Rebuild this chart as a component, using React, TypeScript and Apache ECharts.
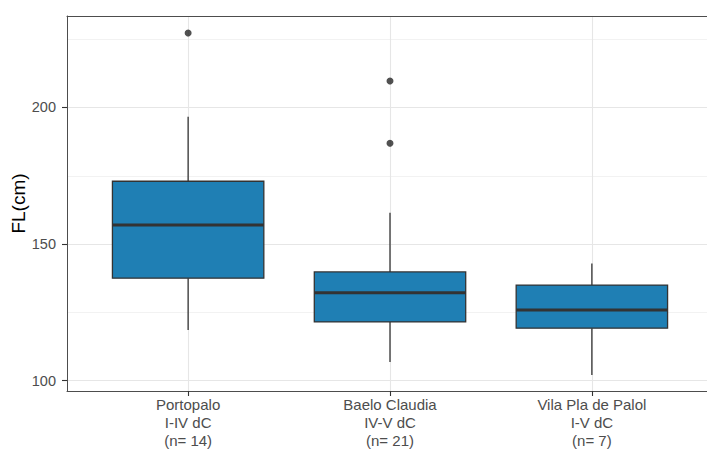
import React, { useEffect, useRef } from "react";
import * as echarts from "echarts";

const siteNames = ["Portopalo", "Baelo Claudia", "Vila Pla de Palol"];
const periods = ["I-IV dC", "IV-V dC", "I-V dC"];
const counts = [14, 21, 7];
const positions = [1, 2, 3];
// [lower whisker, Q1, median, Q3, upper whisker]
const portopaloStats = [118.5, 137.5, 157.0, 173.0, 196.6];
const baeloStats = [106.8, 121.5, 132.2, 139.8, 161.5];
const vilaStats = [102.1, 119.2, 125.9, 135.0, 142.9];
const outlierPos = [1, 2, 2];
const outlierVals = [227.3, 209.7, 186.9];
const majorTicks = [100, 150, 200];
const minorTicks = [125, 175, 225];

const FONT = "'Liberation Sans', Arial, sans-serif";
const BORDER = { show: true, lineStyle: { color: "#4d4d4d", width: 1 } };

export default function App() {
  const ref = useRef<HTMLDivElement>(null);
  useEffect(() => {
    if (!ref.current) return;
    const chart = echarts.init(ref.current, null, { renderer: "svg" });
    const stats = [portopaloStats, baeloStats, vilaStats];
    const boxData = positions.map((p, i) => [p, ...stats[i]]);
    const outData = outlierPos.map((p, i) => [p, outlierVals[i]]);
    const labels = siteNames.map((n, i) => `${n}\n${periods[i]}\n(n= ${counts[i]})`);
    const yMin = 96.2;
    const yMax = 233.5;
    chart.setOption({
      animation: false,
      backgroundColor: "#ffffff",
      grid: {
        left: 67,
        top: 16,
        width: 646,
        height: 375,
        outerBoundsMode: "none",
        containLabel: false,
        show: false,
      },
      xAxis: [
        {
          type: "value",
          min: 0.4,
          max: 3.6,
          axisLine: BORDER,
          axisTick: {
            show: true,
            customValues: positions,
            length: 5,
            lineStyle: { color: "#333333", width: 1.1 },
          },
          axisLabel: {
            customValues: positions,
            formatter: (v: number) => labels[Math.round(v) - 1] ?? "",
            color: "#4d4d4d",
            fontSize: 15,
            lineHeight: 18,
            fontFamily: FONT,
            margin: 4,
          },
          splitLine: { show: true, lineStyle: { color: "#e6e6e6", width: 1.1 } },
        },
        {
          type: "value",
          min: 0.4,
          max: 3.6,
          position: "top",
          axisLine: BORDER,
          axisTick: { show: false },
          axisLabel: { show: false },
          splitLine: { show: false },
        },
      ],
      yAxis: [
        {
          type: "value",
          min: yMin,
          max: yMax,
          name: "FL(cm)",
          nameLocation: "middle",
          nameGap: 39,
          nameMoveOverlap: false,
          nameTextStyle: { color: "#000000", fontSize: 19, fontFamily: FONT },
          axisLine: BORDER,
          axisTick: {
            show: true,
            customValues: majorTicks,
            length: 5,
            lineStyle: { color: "#333333", width: 1.1 },
          },
          axisLabel: {
            customValues: majorTicks,
            color: "#4d4d4d",
            fontSize: 14.5,
            fontFamily: FONT,
            margin: 11,
          },
          splitLine: { show: true, lineStyle: { color: "#e6e6e6", width: 1.1 } },
        },
        {
          type: "value",
          min: yMin,
          max: yMax,
          position: "left",
          axisLine: { show: false },
          axisTick: { show: false, customValues: minorTicks },
          axisLabel: { show: false, customValues: minorTicks },
          splitLine: { show: true, lineStyle: { color: "#ececec", width: 0.7 } },
        },
      ],
      series: [
        {
          type: "custom",
          name: "FL",
          data: boxData,
          encode: { x: 0, y: [1, 2, 3, 4, 5] },
          renderItem: (params: any, api: any) => {
            const x = api.value(0);
            const lo = api.coord([x, api.value(1)]);
            const q1 = api.coord([x, api.value(2)]);
            const med = api.coord([x, api.value(3)]);
            const q3 = api.coord([x, api.value(4)]);
            const hi = api.coord([x, api.value(5)]);
            const half = api.size([0.75, 0])[0] / 2;
            const cx = lo[0];
            const dark = "#333333";
            return {
              type: "group",
              children: [
                {
                  type: "line",
                  shape: { x1: cx, y1: hi[1], x2: cx, y2: q3[1] },
                  style: { stroke: dark, lineWidth: 1.3 },
                },
                {
                  type: "line",
                  shape: { x1: cx, y1: q1[1], x2: cx, y2: lo[1] },
                  style: { stroke: dark, lineWidth: 1.3 },
                },
                {
                  type: "rect",
                  shape: { x: cx - half, y: q3[1], width: half * 2, height: q1[1] - q3[1] },
                  style: { fill: "#1f7fb4", stroke: dark, lineWidth: 1.3 },
                },
                {
                  type: "line",
                  shape: { x1: cx - half, y1: med[1], x2: cx + half, y2: med[1] },
                  style: { stroke: dark, lineWidth: 3 },
                },
              ],
            };
          },
        },
        {
          type: "scatter",
          name: "outliers",
          data: outData,
          symbol: "circle",
          symbolSize: 7,
          itemStyle: { color: "#262626" },
        },
      ],
    });
    return () => chart.dispose();
  }, []);
  return (
    <div
      ref={ref}
      style={{ position: "absolute", left: 0, top: 0, width: 707, height: 449 }}
    />
  );
}
